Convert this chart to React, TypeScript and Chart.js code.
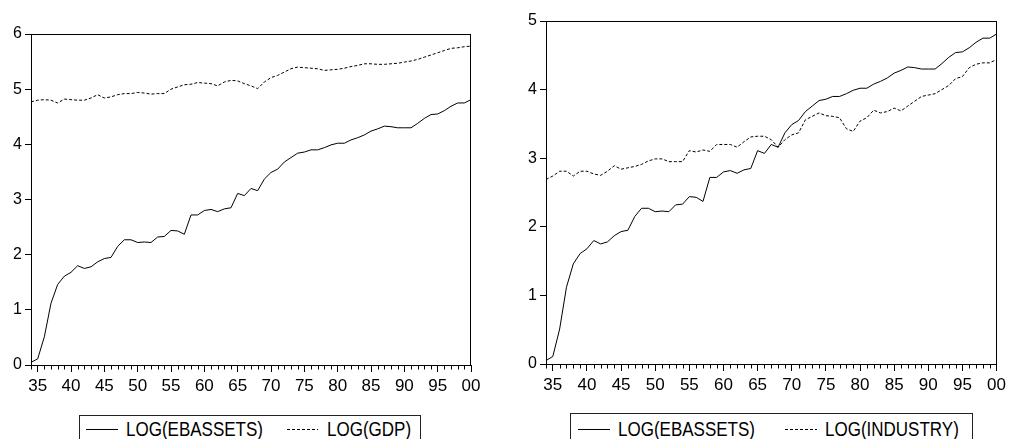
import React, { useEffect, useRef } from "react";
import { Chart, registerables } from "chart.js";

Chart.register(...registerables);

const YEARS = [
  1934, 1935, 1936, 1937, 1938, 1939, 1940, 1941, 1942, 1943, 1944, 1945, 1946, 1947, 1948, 1949,
  1950, 1951, 1952, 1953, 1954, 1955, 1956, 1957, 1958, 1959, 1960, 1961, 1962, 1963, 1964, 1965,
  1966, 1967, 1968, 1969, 1970, 1971, 1972, 1973, 1974, 1975, 1976, 1977, 1978, 1979, 1980, 1981,
  1982, 1983, 1984, 1985, 1986, 1987, 1988, 1989, 1990, 1991, 1992, 1993, 1994, 1995, 1996, 1997,
  1998, 1999, 2000,
];

const EBASSETS = [
  0.05, 0.11, 0.51, 1.12, 1.46, 1.61, 1.68, 1.8, 1.75, 1.78, 1.87, 1.93, 1.95, 2.15, 2.27, 2.27,
  2.22, 2.23, 2.22, 2.32, 2.33, 2.44, 2.43, 2.37, 2.72, 2.72, 2.8, 2.82, 2.78, 2.83, 2.85, 3.11,
  3.07, 3.2, 3.16, 3.37, 3.49, 3.55, 3.68, 3.76, 3.84, 3.86, 3.9, 3.9, 3.94, 3.99, 4.02, 4.02,
  4.08, 4.12, 4.17, 4.24, 4.28, 4.33, 4.32, 4.3, 4.3, 4.3, 4.38, 4.47, 4.54, 4.55, 4.61, 4.69,
  4.75, 4.75, 4.81,
];

const GDP = [
  4.77, 4.8, 4.81, 4.8, 4.75, 4.82, 4.81, 4.8, 4.8, 4.84, 4.9, 4.84, 4.86, 4.9, 4.92, 4.92,
  4.94, 4.93, 4.91, 4.92, 4.92, 5.0, 5.04, 5.08, 5.09, 5.12, 5.11, 5.1, 5.06, 5.13, 5.16, 5.15,
  5.1, 5.06, 5.01, 5.13, 5.21, 5.25, 5.31, 5.37, 5.4, 5.39, 5.38, 5.37, 5.34, 5.35, 5.36, 5.38,
  5.41, 5.43, 5.46, 5.46, 5.45, 5.45, 5.46, 5.47, 5.49, 5.51, 5.54, 5.58, 5.62, 5.66, 5.7, 5.74,
  5.75, 5.77, 5.78,
];

const INDUSTRY = [
  2.69, 2.74, 2.81, 2.81, 2.74, 2.81, 2.81, 2.77, 2.75, 2.81, 2.89, 2.84, 2.86, 2.88, 2.91, 2.96,
  2.99, 2.99, 2.95, 2.95, 2.95, 3.11, 3.09, 3.12, 3.1, 3.2, 3.2, 3.2, 3.16, 3.24, 3.31, 3.32,
  3.32, 3.27, 3.16, 3.27, 3.34, 3.37, 3.56, 3.61, 3.66, 3.62, 3.61, 3.59, 3.43, 3.39, 3.54, 3.59,
  3.7, 3.66, 3.68, 3.73, 3.69, 3.76, 3.83, 3.9, 3.92, 3.94, 4.0, 4.06, 4.16, 4.19, 4.32, 4.37,
  4.39, 4.39, 4.44,
];

const X_TICKS = [1935, 1940, 1945, 1950, 1955, 1960, 1965, 1970, 1975, 1980, 1985, 1990, 1995, 2000];
const LEFT_Y_TICKS = [0, 1, 2, 3, 4, 5, 6];
const RIGHT_Y_TICKS = [0, 1, 2, 3, 4, 5];

const FONT = '"Liberation Sans", Arial, Helvetica, sans-serif';

const framePlugin = {
  id: "frameAndMinor",
  afterDraw(chart: any) {
    const { ctx, chartArea } = chart;
    const xs = chart.scales.x;
    const l = Math.round(chartArea.left) + 0.5;
    const t = Math.round(chartArea.top) + 0.5;
    const r = Math.round(chartArea.right) - 0.5;
    const b = Math.round(chartArea.bottom) + 0.5;
    ctx.save();
    ctx.strokeStyle = "#000";
    ctx.lineWidth = 1;
    ctx.setLineDash([]);
    ctx.strokeRect(l, t, r - l, b - t);
    ctx.beginPath();
    for (const yr of YEARS) {
      if (X_TICKS.includes(yr)) continue;
      const px = Math.round(xs.getPixelForValue(yr)) + 0.5;
      ctx.moveTo(px, b);
      ctx.lineTo(px, b + 4);
    }
    ctx.stroke();
    ctx.restore();
  },
};

type PanelProps = {
  left: number;
  width: number;
  padTop: number;
  padRight: number;
  yWidth: number;
  xHeight: number;
  yMax: number;
  yTicks: number[];
  second: number[];
  secondLabel: string;
};

function Panel(p: PanelProps) {
  const ref = useRef<HTMLCanvasElement | null>(null);
  useEffect(() => {
    if (!ref.current) return;
    const chart = new Chart(ref.current, {
      type: "line",
      data: {
        datasets: [
          {
            label: "LOG(EBASSETS)",
            data: YEARS.map((y, i) => ({ x: y, y: EBASSETS[i] })),
            borderColor: "#000",
            borderWidth: 1,
            pointRadius: 0,
            tension: 0,
            fill: false,
          },
          {
            label: p.secondLabel,
            data: YEARS.map((y, i) => ({ x: y, y: p.second[i] })),
            borderColor: "#000",
            borderWidth: 1,
            borderDash: [3, 2],
            pointRadius: 0,
            tension: 0,
            fill: false,
          },
        ],
      },
      options: {
        animation: false,
        responsive: false,
        maintainAspectRatio: false,
        devicePixelRatio: 1,
        layout: { padding: { top: p.padTop, right: p.padRight, left: 0, bottom: 0 } },
        plugins: { legend: { display: false }, tooltip: { enabled: false }, title: { display: false } },
        scales: {
          x: {
            type: "linear",
            min: 1934,
            max: 2000,
            afterBuildTicks: (s: any) => {
              s.ticks = X_TICKS.map((v) => ({ value: v }));
            },
            afterFit: (s: any) => {
              s.height = p.xHeight;
            },
            border: { display: false },
            grid: { drawOnChartArea: false, drawTicks: true, tickLength: 7, color: "#000", lineWidth: 1 },
            ticks: {
              color: "#000",
              font: { family: FONT, size: 17 },
              padding: 4,
              maxRotation: 0,
              autoSkip: false,
              callback: (v: any) => String(Number(v) % 100).padStart(2, "0"),
            },
          },
          y: {
            type: "linear",
            min: 0,
            max: p.yMax,
            afterBuildTicks: (s: any) => {
              s.ticks = p.yTicks.map((v) => ({ value: v }));
            },
            afterFit: (s: any) => {
              s.width = p.yWidth;
            },
            border: { display: false },
            grid: { drawOnChartArea: false, drawTicks: true, tickLength: 6, color: "#000", lineWidth: 1 },
            ticks: {
              color: "#000",
              font: { family: FONT, size: 16 },
              padding: 3,
              autoSkip: false,
              callback: (v: any) => String(v),
            },
          },
        },
      },
      plugins: [framePlugin],
    });
    return () => chart.destroy();
  }, []);
  return (
    <canvas
      ref={ref}
      width={p.width}
      height={439}
      style={{ position: "absolute", left: p.left, top: 0, width: p.width, height: 439 }}
    />
  );
}

type LegendProps = {
  boxLeft: number;
  boxRight: number;
  boxTop: number;
  s1x: number;
  s1w: number;
  t1x: number;
  s2x: number;
  s2w: number;
  t2x: number;
  label2: string;
};

function Legend(l: LegendProps) {
  const textStyle: React.CSSProperties = {
    position: "absolute",
    fontFamily: FONT,
    fontSize: 17,
    lineHeight: "20px",
    color: "#000",
    whiteSpace: "nowrap",
    top: 420,
    transform: "scaleY(1.15)",
    transformOrigin: "50% 50%",
  };
  return (
    <>
      <div
        style={{
          position: "absolute",
          left: l.boxLeft,
          top: l.boxTop,
          width: l.boxRight - l.boxLeft,
          height: 40,
          border: "1px solid #222",
          boxSizing: "border-box",
          background: "#fff",
        }}
      />
      <div style={{ position: "absolute", left: l.s1x, top: 429, width: l.s1w, height: 1, background: "#000" }} />
      <span style={{ ...textStyle, left: l.t1x }}>LOG(EBASSETS)</span>
      <div
        style={{
          position: "absolute",
          left: l.s2x,
          top: 429,
          width: l.s2w,
          height: 1,
          background: "repeating-linear-gradient(to right, #000 0 3px, transparent 3px 5px)",
        }}
      />
      <span style={{ ...textStyle, left: l.t2x }}>{l.label2}</span>
    </>
  );
}

export default function App() {
  return (
    <div style={{ position: "absolute", left: 0, top: 0, width: 1010, height: 439, background: "#fff", overflow: "hidden" }}>
      <Panel
        left={0}
        width={490}
        padTop={34}
        padRight={19}
        yWidth={31}
        xHeight={74}
        yMax={6}
        yTicks={LEFT_Y_TICKS}
        second={GDP}
        secondLabel="LOG(GDP)"
      />
      <Panel
        left={500}
        width={510}
        padTop={21}
        padRight={11}
        yWidth={46}
        xHeight={75}
        yMax={5}
        yTicks={RIGHT_Y_TICKS}
        second={INDUSTRY}
        secondLabel="LOG(INDUSTRY)"
      />
      <Legend boxLeft={79} boxRight={421} boxTop={415} s1x={86} s1w={32} t1x={126} s2x={287} s2w={31} t2x={327} label2="LOG(GDP)" />
      <Legend boxLeft={570} boxRight={973} boxTop={413} s1x={578} s1w={32} t1x={618} s2x={785} s2w={32} t2x={825} label2="LOG(INDUSTRY)" />
    </div>
  );
}
